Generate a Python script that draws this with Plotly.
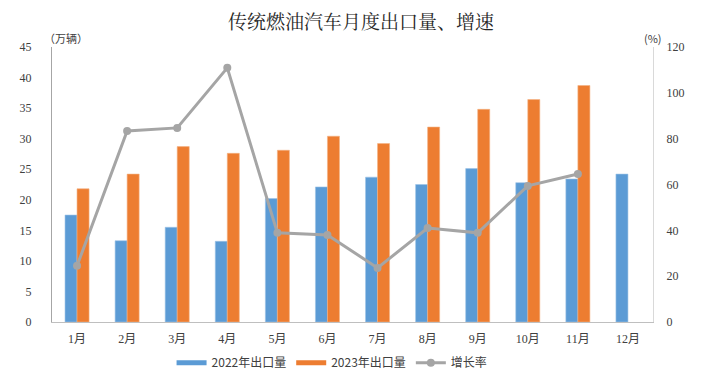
import plotly.graph_objects as go

months = ["1月", "2月", "3月", "4月", "5月", "6月", "7月", "8月", "9月", "10月", "11月", "12月"]
exports_2022 = [17.5, 13.3, 15.5, 13.2, 20.2, 22.1, 23.7, 22.5, 25.1, 22.8, 23.4, 24.2]
exports_2023 = [21.8, 24.2, 28.7, 27.6, 28.1, 30.4, 29.2, 31.9, 34.8, 36.4, 38.7, None]
growth = [24.5, 83.4, 84.7, 110.9, 38.9, 38.0, 23.6, 41.0, 38.9, 59.4, 64.6]
left_ticks = [0, 5, 10, 15, 20, 25, 30, 35, 40, 45]
right_ticks = [0, 20, 40, 60, 80, 100, 120]

BLUE, ORANGE, GREY = "#5B9BD5", "#ED7D31", "#A5A5A5"
tick_font = dict(family="Liberation Serif, serif", size=12, color="#404040")
cjk = "Noto Sans CJK SC, sans-serif"

# page has an 8px default body margin, so the figure is 8px smaller and margins shifted
W, H = 697, 370

fig = go.Figure()
fig.add_trace(go.Bar(x=months, y=exports_2022, name="2022年出口量", showlegend=False,
                     marker=dict(color=BLUE, line=dict(color="#9DC3E6", width=0.6))))
fig.add_trace(go.Bar(x=months, y=exports_2023, name="2023年出口量", showlegend=False,
                     marker=dict(color=ORANGE, line=dict(color="#F4B183", width=0.6))))
# legend entries drawn as thick lines (Excel style)
fig.add_trace(go.Scatter(x=[None], y=[None], mode="lines", name="2022年出口量",
                         line=dict(color=BLUE, width=5)))
fig.add_trace(go.Scatter(x=[None], y=[None], mode="lines", name="2023年出口量",
                         line=dict(color=ORANGE, width=5)))
fig.add_trace(go.Scatter(x=months[:len(growth)], y=growth, name="增长率", yaxis="y2",
                         mode="lines+markers",
                         line=dict(color=GREY, width=3),
                         marker=dict(color=GREY, size=8)))

fig.update_layout(
    width=W, height=H,
    margin=dict(l=44, r=52, t=39, b=56, autoexpand=False),
    paper_bgcolor="white", plot_bgcolor="white",
    barmode="group", bargap=0.52, bargroupgap=0,
    title=dict(text="传统燃油汽车月度出口量、增速", x=353 / W, xanchor="center",
               y=1 - 14 / H, yanchor="middle",
               font=dict(family="Noto Serif CJK SC, Noto Sans CJK SC, serif", size=19, color="#262626")),
    xaxis=dict(type="category", categoryorder="array", categoryarray=months,
               range=[-0.5, len(months) - 0.5],
               showline=True, linecolor="#BFBFBF", linewidth=1, ticks="", showgrid=False,
               automargin=False, ticklabelstandoff=6,
               tickfont=dict(family="Liberation Serif, Noto Sans CJK SC, serif", size=12, color="#404040")),
    yaxis=dict(range=[0, 45], tickvals=left_ticks, showline=True, linecolor="#A6A6A6", linewidth=1,
               showgrid=False, zeroline=False, ticks="", tickfont=tick_font, ticklabelstandoff=17,
               automargin=False),
    yaxis2=dict(range=[0, 120], tickvals=right_ticks, overlaying="y", side="right", showline=True,
                linecolor="#D9D9D9", linewidth=1, showgrid=False, zeroline=False, ticks="",
                tickfont=tick_font, ticklabelstandoff=10, automargin=False),
    legend=dict(orientation="h", x=0.466, xanchor="center", y=-0.095, yanchor="top",
                font=dict(family=cjk, size=12, color="#404040"), traceorder="normal",
                itemwidth=30),
    annotations=[
        dict(text="（万辆）", x=0.023, xref="paper", xanchor="center", y=1.0, yref="paper",
             yanchor="middle", yshift=9, showarrow=False,
             font=dict(family=cjk, size=11, color="#404040")),
        dict(text="(%)", x=1, xref="paper", xanchor="center", y=1.0, yref="paper",
             yanchor="middle", yshift=9, showarrow=False,
             font=dict(family=cjk, size=11, color="#404040")),
    ],
)

fig.write_html("out.html")
